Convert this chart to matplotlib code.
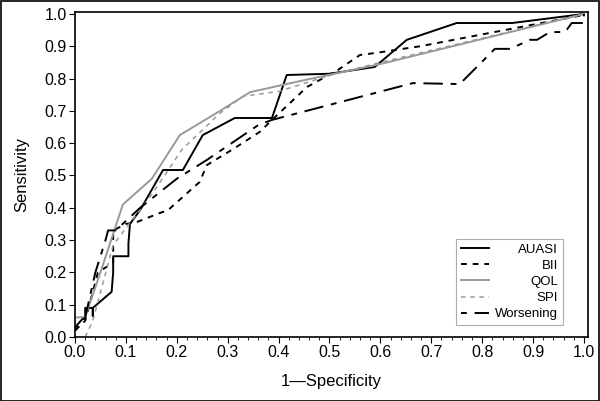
import matplotlib.pyplot as plt
from matplotlib.patches import Rectangle
from matplotlib.ticker import MultipleLocator

plt.rcParams['font.family'] = ['Liberation Sans', 'DejaVu Sans']

# ROC curves (1-specificity, sensitivity)
auasi_x = [0, 0.02, 0.02, 0.035, 0.035, 0.035, 0.072, 0.075, 0.075, 0.105, 0.105, 0.108,
           0.128, 0.173, 0.212, 0.251, 0.314, 0.387, 0.416, 0.5, 0.589, 0.652, 0.75, 0.859, 1.0]
auasi_y = [0.03, 0.065, 0.09, 0.09, 0.065, 0.09, 0.14, 0.2, 0.25, 0.25, 0.29, 0.35,
           0.393, 0.517, 0.517, 0.625, 0.678, 0.678, 0.811, 0.815, 0.836, 0.92, 0.972, 0.972, 1.0]

bii_x = [0, 0.02, 0.045, 0.075, 0.075, 0.1, 0.12, 0.167, 0.183, 0.245, 0.259, 0.314,
         0.363, 0.387, 0.456, 0.517, 0.56, 0.589, 0.678, 1.0]
bii_y = [0.02, 0.05, 0.2, 0.23, 0.33, 0.35, 0.355, 0.384, 0.393, 0.48, 0.532, 0.585,
         0.635, 0.672, 0.774, 0.827, 0.873, 0.879, 0.90, 0.997]

qol_x = [0, 0.02, 0.05, 0.094, 0.151, 0.206, 0.285, 0.344, 0.45, 0.6, 1.0]
qol_y = [0.06, 0.062, 0.2, 0.41, 0.49, 0.625, 0.70, 0.758, 0.795, 0.845, 1.0]

spi_x = [0.02, 0.035, 0.075, 0.108, 0.153, 0.21, 0.285, 0.33, 0.4, 0.5, 0.6, 1.0]
spi_y = [0.0, 0.05, 0.285, 0.353, 0.446, 0.58, 0.693, 0.745, 0.76, 0.81, 0.85, 1.0]

wors_x = [0, 0.02, 0.04, 0.06, 0.065, 0.08, 0.128, 0.2, 0.259, 0.36, 0.387, 0.664, 0.756,
          0.825, 0.855, 0.894, 0.908, 0.933, 0.963, 0.976, 1.0, 1.0]
wors_y = [0.02, 0.06, 0.2, 0.3, 0.33, 0.33, 0.40, 0.49, 0.548, 0.656, 0.672, 0.786, 0.783,
          0.892, 0.892, 0.92, 0.92, 0.944, 0.944, 0.972, 0.972, 1.0]

fig = plt.figure(figsize=(6, 4.01), dpi=100)
ax = fig.add_axes([0.125, 0.1596, 0.855, 0.8104])

ax.plot(auasi_x, auasi_y, color='black', lw=1.4, label='AUASI')
ax.plot(bii_x, bii_y, color='black', lw=1.4, dashes=(3, 3), label='BII')
ax.plot(qol_x, qol_y, color='#999999', lw=1.4, label='QOL')
ax.plot(spi_x, spi_y, color='#999999', lw=1.1, dashes=(3, 3), label='SPI')
ax.plot(wors_x, wors_y, color='black', lw=1.4, dashes=(3, 4, 10, 4), label='Worsening')

ax.set_xlim(0, 1.008)
ax.set_ylim(0, 1.006)
ax.xaxis.set_major_locator(MultipleLocator(0.1))
ax.xaxis.set_minor_locator(MultipleLocator(0.02))
ax.yaxis.set_major_locator(MultipleLocator(0.1))
ax.xaxis.set_major_formatter(plt.FormatStrFormatter('%.1f'))
ax.yaxis.set_major_formatter(plt.FormatStrFormatter('%.1f'))
ax.tick_params(which='major', length=4, width=0.8, labelsize=11.5, pad=2)
ax.tick_params(which='minor', length=2, width=0.6)
for s in ax.spines.values():
    s.set_linewidth(1.2)

ax.set_xlabel('1\u2014Specificity', fontsize=12, labelpad=10)
ax.set_ylabel('Sensitivity', fontsize=12, labelpad=11)

leg = ax.legend(loc='lower right', bbox_to_anchor=(0.951, 0.037),
                prop={'size': 9.5}, frameon=True, fancybox=False, edgecolor='#999999',
                handlelength=2.1, handletextpad=0.5, labelspacing=0.3, borderpad=0.35,
                borderaxespad=0)
leg.get_frame().set_linewidth(0.8)

# right-align the legend labels
fig.canvas.draw()
exts = [t.get_window_extent() for t in leg.get_texts()]
right = max(e.x1 for e in exts)
for t, e in zip(leg.get_texts(), exts):
    t.set_position((right - e.x1, 0))

fig.patches.append(Rectangle((0.001, 0.001), 0.997, 0.997, transform=fig.transFigure,
                             fill=False, edgecolor='black', lw=1.2))

fig.savefig('out.png', dpi=100)
